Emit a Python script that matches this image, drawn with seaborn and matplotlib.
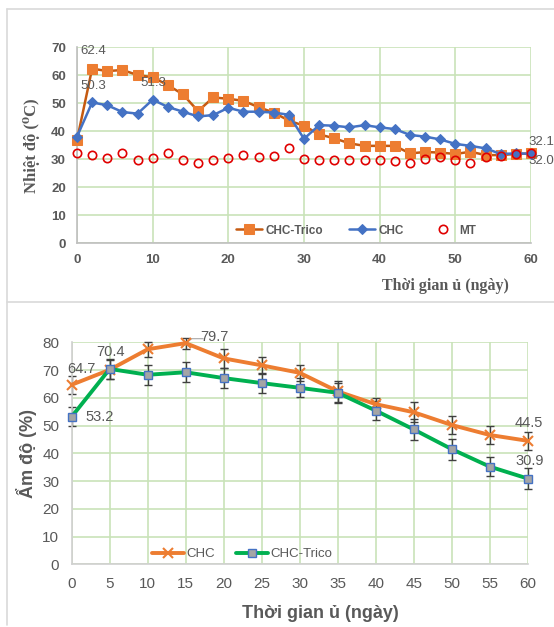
import numpy as np
import pandas as pd
import matplotlib
matplotlib.use("Agg")
import matplotlib.pyplot as plt
import seaborn as sns
from matplotlib.lines import Line2D

# ---- top chart: temperature ----
days_t = list(range(0, 61, 2))
temp_trico = [36.9, 62.4, 61.5, 61.9, 60.1, 59.3, 56.5, 53.2, 47.2, 52.1, 51.6,
              50.9, 48.6, 46.7, 43.8, 42.0, 38.9, 37.5, 35.7, 34.8, 34.8, 34.8,
              32.1, 32.6, 32.4, 31.9, 32.7, 31.5, 31.5, 31.9, 32.1]
temp_chc = [38.1, 50.3, 49.3, 46.9, 46.3, 51.3, 48.7, 47.0, 45.3, 45.8, 48.4,
            47.0, 47.0, 46.7, 45.9, 37.3, 42.2, 42.0, 41.4, 42.2, 41.4, 40.8,
            38.7, 38.1, 37.1, 35.5, 34.8, 33.9, 31.9, 32.1, 32.0]
temp_mt = [32.1, 31.7, 30.4, 32.1, 29.6, 30.4, 32.4, 29.9, 28.7, 29.6, 30.4,
           31.4, 30.8, 31.3, 33.9, 30.1, 29.9, 29.6, 29.6, 29.6, 29.9, 29.4,
           28.8, 30.1, 30.7, 29.9, 28.8, 30.9, 31.3, 31.9, 32.1]

# ---- bottom chart: moisture ----
days_m = list(range(0, 61, 5))
moist_chc = [64.7, 70.1, 77.5, 79.7, 74.2, 71.7, 69.0, 62.3, 57.7, 54.8, 50.2, 46.6, 44.5]
err_chc = [3.3, 3.5, 2.7, 2.0, 3.4, 3.1, 2.9, 3.7, 2.4, 3.6, 3.3, 3.3, 3.3]
moist_trico = [53.2, 70.4, 68.3, 69.2, 67.1, 65.3, 63.6, 61.8, 55.4, 48.6, 41.5, 35.2, 30.9]
err_trico = [3.5, 3.5, 3.6, 3.6, 3.6, 3.6, 3.4, 3.6, 3.5, 3.7, 3.8, 3.5, 3.8]

sns.set_theme(style="white")
plt.rcParams['font.family'] = ['Liberation Sans', 'DejaVu Sans']

ORANGE = "#ED7D31"
ORANGE_DARK = "#C55A11"
BLUE = "#4472C4"
GREEN = "#00B050"
GRID = "#C9E3B9"
TXT = "#595959"

fig = plt.figure(figsize=(5.54, 6.27), dpi=100)

# panel borders
for xs, ys in [([7 / 554, 1], [1 - 9 / 627] * 2),
               ([7 / 554, 1], [1 - 302 / 627] * 2),
               ([7 / 554] * 2, [1 - 9 / 627, 1 - 625 / 627])]:
    fig.add_artist(Line2D(xs, ys, color="#D9D9D9", lw=1.2, transform=fig.transFigure))

# ================= top =================
ax1 = fig.add_axes([77 / 554, 1 - 243.3 / 627, 454 / 554, 196 / 627])
df_t = pd.DataFrame({"day": days_t, "CHC-Trico": temp_trico, "CHC": temp_chc, "MT": temp_mt})

sns.lineplot(data=df_t, x="day", y="CHC-Trico", ax=ax1, color=ORANGE_DARK, lw=1.8,
             marker="s", markersize=7, markerfacecolor=ORANGE, markeredgecolor=ORANGE,
             label="CHC-Trico", zorder=3, clip_on=False)
sns.lineplot(data=df_t, x="day", y="CHC", ax=ax1, color=BLUE, lw=1.8,
             marker="D", markersize=5, markerfacecolor=BLUE, markeredgecolor=BLUE,
             label="CHC", zorder=4, clip_on=False)
ax1.plot(df_t["day"], df_t["MT"], ls="none", marker="o", markersize=6,
         markerfacecolor="none", markeredgecolor="#E00000", markeredgewidth=1.2,
         label="MT", zorder=5, clip_on=False)

ax1.set_xlim(0, 60)
ax1.set_ylim(0, 70)
ax1.set_xticks(range(0, 61, 10))
ax1.set_yticks(range(0, 71, 10))
ax1.grid(True, color=GRID, lw=1.2)
ax1.set_axisbelow(True)
for s in ["top", "right"]:
    ax1.spines[s].set_visible(False)
for s in ["left", "bottom"]:
    ax1.spines[s].set_color("#BFBFBF")
    ax1.spines[s].set_linewidth(1.2)
ax1.tick_params(axis="both", labelsize=9.5, colors=TXT, length=0, pad=8)
for lab in ax1.get_xticklabels() + ax1.get_yticklabels():
    lab.set_fontweight("bold")
ax1.set_xlabel("")
ax1.set_ylabel("Nhiệt độ (⁰C)", family=["Liberation Serif", "DejaVu Serif"],
               fontsize=12, fontweight="bold", color=TXT, labelpad=8)
fig.text(445 / 554, 1 - 286 / 627, "Thời gian ủ (ngày)", family=["Liberation Serif", "DejaVu Serif"],
         fontsize=11.5, fontweight="bold", color=TXT, ha="center", va="center")

lab_kw = dict(fontsize=9.5, color=TXT)
ax1.annotate("62.4", (2, 62.4), xytext=(80 / 554, 1 - 51 / 627), textcoords="figure fraction",
             ha="left", va="center", **lab_kw)
ax1.annotate("50.3", (2, 50.3), xytext=(80 / 554, 1 - 86 / 627), textcoords="figure fraction",
             ha="left", va="center", **lab_kw)
ax1.annotate("51.3", (10, 51.3), xytext=(140 / 554, 1 - 83 / 627), textcoords="figure fraction",
             ha="left", va="center", **lab_kw)
ax1.annotate("32.1", (60, 32.1), xytext=(528 / 554, 1 - 142 / 627), textcoords="figure fraction",
             ha="left", va="center", **lab_kw)
ax1.annotate("32.0", (60, 32.0), xytext=(528 / 554, 1 - 161 / 627), textcoords="figure fraction",
             ha="left", va="center", **lab_kw)

leg1 = ax1.legend(loc="lower center", bbox_to_anchor=(0.615, -0.02), ncol=3, frameon=False,
                  fontsize=8.5, handlelength=2.2, columnspacing=2.2, handletextpad=0.3)
for t in leg1.get_texts():
    t.set_color(TXT)
    t.set_fontweight("bold")

# ================= bottom =================
ax2 = fig.add_axes([71.7 / 554, 1 - 564.3 / 627, 456 / 554, 222 / 627])
df_m = pd.DataFrame({"day": days_m, "CHC": moist_chc, "CHC-Trico": moist_trico,
                     "err_chc": err_chc, "err_trico": err_trico})

ax2.errorbar(df_m["day"], df_m["CHC"], yerr=df_m["err_chc"], fmt="none", ecolor="#404040",
             elinewidth=1, capsize=3, zorder=2, clip_on=False)
ax2.errorbar(df_m["day"], df_m["CHC-Trico"], yerr=df_m["err_trico"], fmt="none", ecolor="#404040",
             elinewidth=1, capsize=3, zorder=2, clip_on=False)
sns.lineplot(data=df_m, x="day", y="CHC", ax=ax2, color=ORANGE, lw=2.8,
             marker="x", markersize=7, markeredgewidth=1.5, markeredgecolor=ORANGE,
             label="CHC", zorder=3, clip_on=False)
sns.lineplot(data=df_m, x="day", y="CHC-Trico", ax=ax2, color=GREEN, lw=2.8,
             marker="s", markersize=6, markerfacecolor="#A5A5A5", markeredgecolor=BLUE,
             markeredgewidth=1, label="CHC-Trico", zorder=4, clip_on=False)

ax2.set_xlim(0, 60)
ax2.set_ylim(0, 80)
ax2.set_xticks(range(0, 61, 5))
ax2.set_yticks(range(0, 81, 10))
ax2.grid(True, color=GRID, lw=1.2)
ax2.set_axisbelow(True)
for s in ["top", "right"]:
    ax2.spines[s].set_visible(False)
for s in ["left", "bottom"]:
    ax2.spines[s].set_color("#D0D0D0")
    ax2.spines[s].set_linewidth(1.2)
ax2.tick_params(axis="both", labelsize=11, colors=TXT, length=0, pad=9)
ax2.set_xlabel("")
ax2.set_ylabel("Ẩm độ (%)", fontsize=13, fontweight="bold", color=TXT, labelpad=4)
fig.text(320 / 554, 1 - 614 / 627, "Thời gian ủ (ngày)", fontsize=13, fontweight="bold",
         color=TXT, ha="center", va="center")

lab_kw2 = dict(fontsize=10.5, color=TXT, ha="left", va="center")
ax2.annotate("64.7", (0, 64.7), xytext=(67 / 554, 1 - 369 / 627), textcoords="figure fraction", **lab_kw2)
ax2.annotate("70.4", (5, 70.4), xytext=(96 / 554, 1 - 352 / 627), textcoords="figure fraction", **lab_kw2)
ax2.annotate("79.7", (15, 79.7), xytext=(200 / 554, 1 - 337 / 627), textcoords="figure fraction", **lab_kw2)
ax2.plot([15.3, 15.8, 17.3], [80.3, 81.3, 81.3], color="#A6A6A6", lw=0.8, clip_on=False)
ax2.annotate("53.2", (0, 53.2), xytext=(85 / 554, 1 - 417 / 627), textcoords="figure fraction", **lab_kw2)
ax2.annotate("44.5", (60, 44.5), xytext=(515 / 554, 1 - 423 / 627), textcoords="figure fraction", **lab_kw2)
ax2.annotate("30.9", (60, 30.9), xytext=(515 / 554, 1 - 461 / 627), textcoords="figure fraction", **lab_kw2)

leg2 = ax2.legend(loc="lower left", bbox_to_anchor=(0.15, -0.035), ncol=2, frameon=False,
                  fontsize=9.5, handlelength=2.4, columnspacing=1.6, handletextpad=0.2)
for t in leg2.get_texts():
    t.set_color(TXT)

fig.savefig("out.png", dpi=100)
